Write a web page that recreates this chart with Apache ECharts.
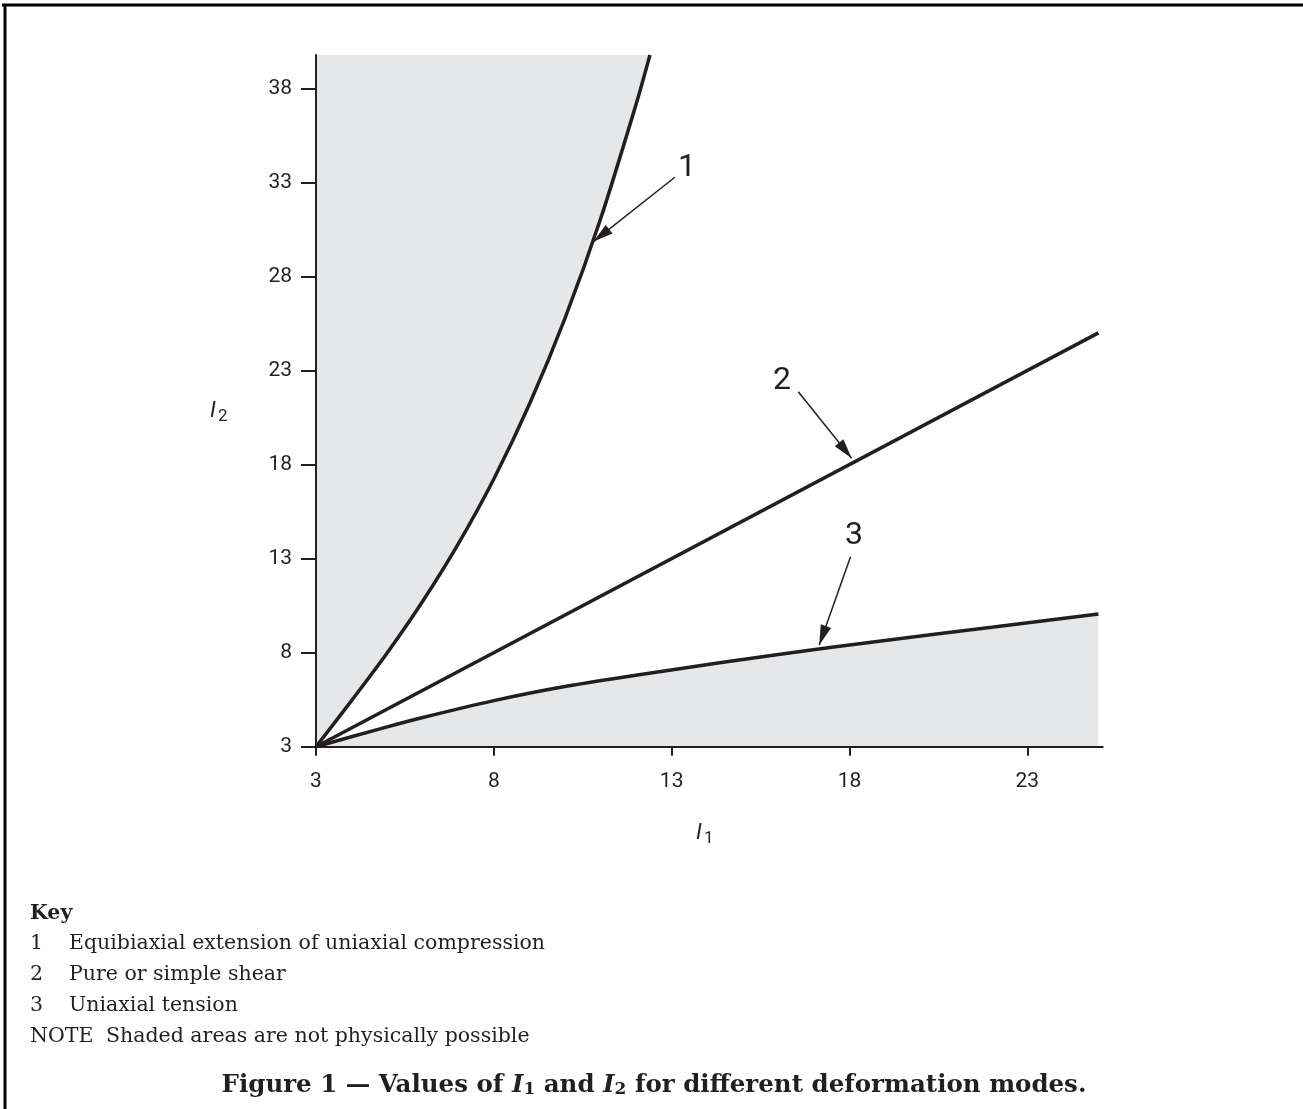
<!DOCTYPE html>
<html><head><meta charset="utf-8">
<script src="https://cdn.jsdelivr.net/npm/echarts@6/dist/echarts.min.js"></script>
<style>html,body{margin:0;padding:0;background:#fff}#c{width:1303px;height:1109px}</style>
</head><body><div id="c"></div>
<script>
// ---- data ----
const xTicks = [3, 8, 13, 18, 23];
const yTicks = [3, 8, 13, 18, 23, 28, 33, 38];
const xMin = 3, xMax = 25.12, yMin = 3, yMax = 39.77;

const equibiaxialI1 = [3, 4, 5, 6, 7, 8, 9, 10, 11, 12, 12.39];
const equibiaxialI2 = [3, 5.45, 7.98, 10.73, 13.78, 17.23, 21.2, 25.77, 31.05, 37.15, 39.77];

const shearI1 = [3, 25];
const shearI2 = [3, 25];

const uniaxialI1 = [3, 4.8, 6, 8, 10, 12.7, 16, 19, 22, 25];
const uniaxialI2 = [3, 3.95, 4.55, 5.45, 6.2, 7.0, 7.9, 8.65, 9.35, 10.05];

const arrowStartX = [13.09, 16.56, 18.03];
const arrowStartY = [33.27, 21.87, 13.10];
const arrowTipX = [10.80, 18.06, 17.15];
const arrowTipY = [29.85, 18.33, 8.41];
const arrowLabels = ['1', '2', '3'];
const arrowLabelX = [13.43, 16.10, 18.13];
const arrowLabelY = [33.77, 22.44, 14.20];

const keyNumbers = ['1', '2', '3'];
const keyTexts = ['Equibiaxial extension of uniaxial compression', 'Pure or simple shear', 'Uniaxial tension'];
const noteText = 'Shaded areas are not physically possible';

// ---- chart ----
const INK = '#231f20';
const SHADE = '#e6e7e8';
const zip = (a, b) => a.map((v, i) => [v, b[i]]);
const chart = echarts.init(document.getElementById('c'), null, {renderer: 'canvas'});

const tickFont = {fontFamily: 'Roboto', fontSize: 21, color: INK};
const serif = 'DejaVu Serif';
const keyFont = '20.5px "' + serif + '"';

const graphics = [
  {type: 'line', shape: {x1: 2, y1: 5, x2: 1303, y2: 5}, style: {stroke: '#000', lineWidth: 3}},
  {type: 'line', shape: {x1: 5, y1: 4, x2: 5, y2: 1109}, style: {stroke: '#000', lineWidth: 3}},
  // axis titles
  {type: 'text', x: 210, y: 411, style: {text: 'I', font: 'italic 22px Roboto', fill: INK, verticalAlign: 'middle', align: 'left'}},
  {type: 'text', x: 218, y: 417, style: {text: '2', font: '17px Roboto', fill: INK, verticalAlign: 'middle', align: 'left'}},
  {type: 'text', x: 696, y: 833, style: {text: 'I', font: 'italic 22px Roboto', fill: INK, verticalAlign: 'middle', align: 'left'}},
  {type: 'text', x: 704, y: 839, style: {text: '1', font: '17px Roboto', fill: INK, verticalAlign: 'middle', align: 'left'}},
  // key
  {type: 'text', x: 30, y: 914, style: {text: 'Key', font: 'bold ' + keyFont, fill: INK, verticalAlign: 'middle', align: 'left'}}
];
keyNumbers.forEach((n, i) => {
  const y = 944 + i * 31;
  graphics.push({type: 'text', x: 30, y: y, style: {text: n, font: keyFont, fill: INK, verticalAlign: 'middle', align: 'left'}});
  graphics.push({type: 'text', x: 69, y: y, style: {text: keyTexts[i], font: keyFont, fill: INK, verticalAlign: 'middle', align: 'left'}});
});
graphics.push({type: 'text', x: 30, y: 1037, style: {text: 'NOTE', font: keyFont, fill: INK, verticalAlign: 'middle', align: 'left'}});
graphics.push({type: 'text', x: 106, y: 1037, style: {text: noteText, font: keyFont, fill: INK, verticalAlign: 'middle', align: 'left'}});
// caption
graphics.push({
  type: 'text', x: 654, y: 1066,
  style: {
    text: '{b|Figure 1 — Values of }{bi|I}{s|1}{b| and }{bi|I}{s|2}{b| for different deformation modes.}',
    fill: INK, align: 'center', verticalAlign: 'top',
    rich: {
      b: {fontFamily: serif, fontWeight: 'bold', fontSize: 24.5, lineHeight: 32, verticalAlign: 'bottom', fill: INK},
      bi: {fontFamily: serif, fontWeight: 'bold', fontStyle: 'italic', fontSize: 24.5, lineHeight: 32, verticalAlign: 'bottom', fill: INK},
      s: {fontFamily: serif, fontWeight: 'bold', fontSize: 17, lineHeight: 16, verticalAlign: 'bottom', fill: INK}
    }
  }
});

const option = {
  animation: false,
  backgroundColor: '#fff',
  grid: {left: 316, top: 55, right: 200.3, bottom: 362.3, containLabel: false},
  xAxis: {
    type: 'value', min: xMin, max: xMax, z: 10,
    axisLine: {show: true, onZero: false, lineStyle: {color: INK, width: 2}},
    axisTick: {show: true, length: 9, customValues: xTicks, lineStyle: {color: INK, width: 2}},
    axisLabel: Object.assign({customValues: xTicks, margin: 25}, tickFont),
    splitLine: {show: false}
  },
  yAxis: {
    type: 'value', min: yMin, max: yMax, z: 10,
    axisLine: {show: true, onZero: false, lineStyle: {color: INK, width: 2}},
    axisTick: {show: true, length: 15, customValues: yTicks, lineStyle: {color: INK, width: 2}},
    axisLabel: Object.assign({customValues: yTicks, margin: 24}, tickFont),
    splitLine: {show: false}
  },
  series: [
    {
      name: 'Equibiaxial', type: 'line', data: zip(equibiaxialI1, equibiaxialI2),
      smooth: 0.3, showSymbol: false, symbol: 'none', z: 3,
      lineStyle: {color: INK, width: 3.5},
      areaStyle: {color: SHADE, opacity: 1, origin: 'end'}
    },
    {
      name: 'Shear', type: 'line', data: zip(shearI1, shearI2),
      showSymbol: false, symbol: 'none', z: 3,
      lineStyle: {color: INK, width: 3.5},
      markLine: {
        silent: true, animation: false,
        symbol: ['none', 'path://M5,0 L10,16 L0,16 Z'],
        symbolSize: [11, 20],
        symbolOffset: [0, [0, 10]],
        lineStyle: {color: INK, width: 1.5, type: 'solid'},
        label: {show: false},
        data: arrowStartX.map((x, i) => [
          {coord: [x, arrowStartY[i]]},
          {coord: [arrowTipX[i], arrowTipY[i]]}
        ])
      }
    },
    {
      name: 'Uniaxial', type: 'line', data: zip(uniaxialI1, uniaxialI2),
      smooth: 0.3, showSymbol: false, symbol: 'none', z: 3,
      lineStyle: {color: INK, width: 3.5},
      areaStyle: {color: SHADE, opacity: 1, origin: 'start'}
    },
    {
      name: 'Labels', type: 'scatter', symbolSize: 0, z: 5,
      itemStyle: {opacity: 1},
      data: arrowLabels.map((t, i) => ({name: t, value: [arrowLabelX[i], arrowLabelY[i]]})),
      label: {show: true, position: 'inside', formatter: p => p.name, fontFamily: 'Roboto', fontSize: 32, color: INK, opacity: 1}
    }
  ],
  graphic: graphics
};
chart.setOption(option);
</script>
</body></html>
